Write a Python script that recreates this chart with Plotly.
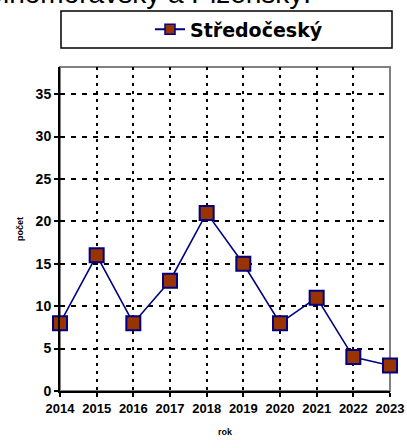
import plotly.graph_objects as go

years = [2014, 2015, 2016, 2017, 2018, 2019, 2020, 2021, 2022, 2023]
values = [8, 16, 8, 13, 21, 15, 8, 11, 4, 3]
series_name = "Středočeský"
y_ticks = [0, 5, 10, 15, 20, 25, 30, 35]

NAVY = "#000080"
BROWN = "#993300"
FONT = "Liberation Sans"

fig = go.Figure()
fig.add_trace(go.Scatter(
    x=years, y=values, mode="lines+markers", name=series_name,
    line=dict(color=NAVY, width=1.6),
    marker=dict(symbol="square", size=14, color=BROWN, line=dict(color=NAVY, width=2)),
    cliponaxis=False, showlegend=False,
))
fig.add_trace(go.Scatter(
    x=[None], y=[None], mode="lines+markers", name=series_name,
    line=dict(color=NAVY, width=2),
    marker=dict(symbol="square", size=10, color=BROWN, line=dict(color=NAVY, width=1.5)),
    showlegend=True,
))

W, H = 407, 448
L, R, T, B = 60, 17, 67, 57
pw, ph = W - L - R, H - T - B

def px_x(px):
    return (px - L) / pw

def px_y(py):
    return (H - B - py) / ph

fig.update_layout(
    width=W, height=H,
    margin=dict(l=L, r=R, t=T, b=B, autoexpand=False),
    paper_bgcolor="white", plot_bgcolor="white",
    font=dict(family=FONT, color="black"),
    showlegend=True,
    legend=dict(
        x=px_x(150), y=px_y(29.5), xanchor="left", yanchor="middle",
        font=dict(family="DejaVu Sans", size=19, color="black", weight="bold"),
        bgcolor="rgba(0,0,0,0)", borderwidth=0,
    ),
    xaxis=dict(
        range=[2014, 2023], tickmode="array", tickvals=years,
        ticktext=[str(y) for y in years],
        tickfont=dict(family=FONT, size=13, weight="bold"),
        ticks="outside", ticklen=4, tickcolor="black", tickwidth=1.5,
        showline=True, linecolor="black", linewidth=2,
        showgrid=True, gridcolor="black", gridwidth=2, griddash="3px,5px",
        zeroline=False, automargin=False,
        title=dict(text="rok", font=dict(family=FONT, size=9, weight="bold"), standoff=14),
    ),
    yaxis=dict(
        range=[0, 38.2], tickmode="array", tickvals=y_ticks,
        tickfont=dict(family=FONT, size=14, weight="bold"),
        ticks="outside", ticklen=4, tickcolor="black", tickwidth=1.5,
        showline=True, linecolor="black", linewidth=2,
        showgrid=True, gridcolor="black", gridwidth=2, griddash="5px,6px",
        zeroline=False, automargin=False,
        title=dict(text="počet", font=dict(family=FONT, size=9, weight="bold"), standoff=10),
    ),
    shapes=[
        dict(type="rect", xref="paper", yref="paper", x0=0, x1=1, y0=0, y1=1,
             line=dict(color="#808080", width=2), layer="below"),
        dict(type="rect", xref="paper", yref="paper",
             x0=px_x(61), x1=px_x(392), y0=px_y(48), y1=px_y(11),
             line=dict(color="black", width=1.5), fillcolor="rgba(0,0,0,0)"),
    ],
    annotations=[
        dict(text="Jihomoravský a Plzeňský.", xref="paper", yref="paper",
             x=px_x(313), y=px_y(-7), xanchor="right", yanchor="middle",
             showarrow=False, font=dict(family=FONT, size=28, color="black")),
    ],
)

fig.write_html(
    "out.html",
    config={"displayModeBar": False},
    post_script="document.body.style.margin='0';document.body.style.padding='0';",
)
